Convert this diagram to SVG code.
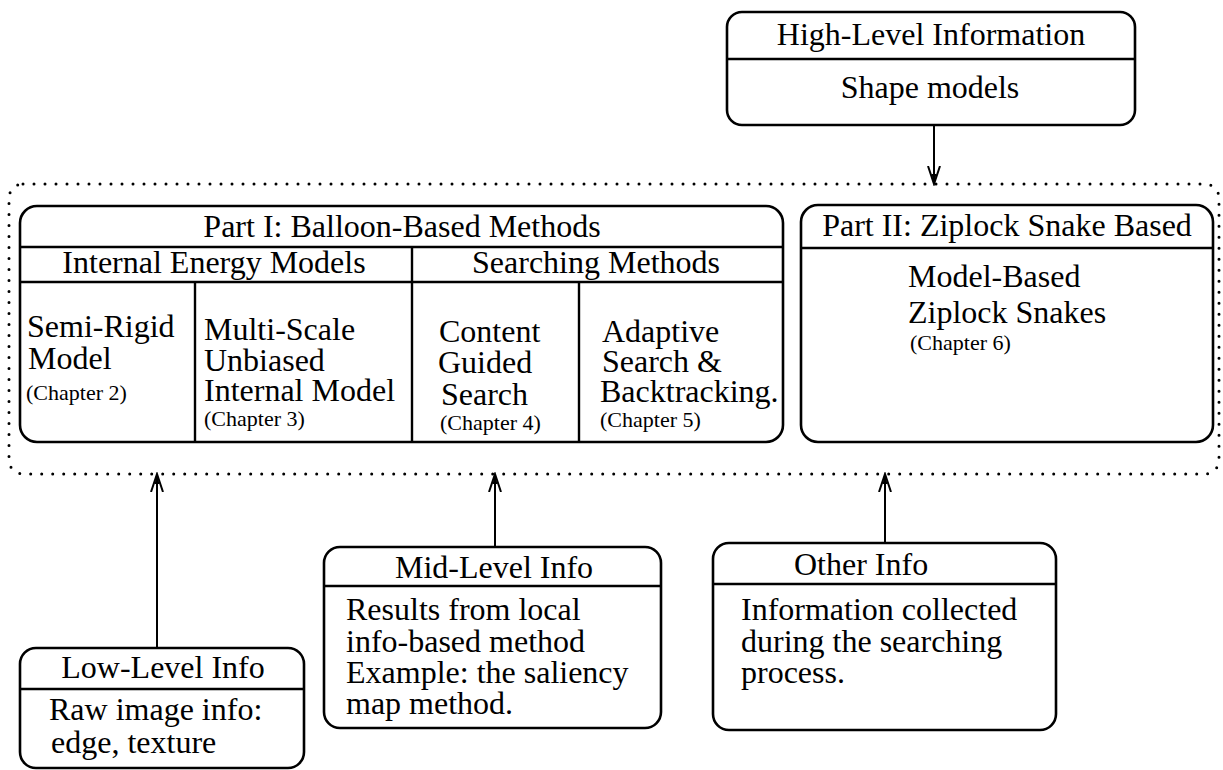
<svg xmlns="http://www.w3.org/2000/svg" width="1223" height="770" viewBox="0 0 1223 770">
<defs>
<style>
text{font-family:"Liberation Serif","Times New Roman",serif;fill:#000}
.t{font-size:32px}
.c{font-size:22px}
.m{text-anchor:middle}
.box{fill:#fff;stroke:#000;stroke-width:2.6}
.ln{stroke:#000;stroke-width:2.4;fill:none}
.ar{stroke:#000;stroke-width:2;fill:none;marker-end:url(#ah)}
.dot{fill:none;stroke:#000;stroke-width:3;stroke-dasharray:0 11;stroke-linecap:round}
</style>
<marker id="ah" markerWidth="20" markerHeight="14" refX="18" refY="6" orient="auto" markerUnits="userSpaceOnUse" viewBox="0 0 20 12">
<path d="M0,0 L18,6 L0,12" fill="none" stroke="#000" stroke-width="2"/>
<path d="M8,3.5 L18,6 L8,8.5 Z" fill="#000"/>
</marker>
</defs>
<rect width="1223" height="770" fill="#fff"/>

<g id="container">
<rect class="dot" x="9" y="184" width="1210" height="290" rx="14"/>
</g>

<g id="high-level">
<rect class="box" x="727" y="12" width="408" height="113" rx="15"/>
<line class="ln" x1="727" y1="59" x2="1135" y2="59"/>
<text class="t m" x="931" y="45">High-Level Information</text>
<text class="t m" x="930" y="98">Shape models</text>
</g>

<g id="part1">
<rect class="box" x="20" y="206" width="763" height="236" rx="17"/>
<line class="ln" x1="20" y1="247" x2="783" y2="247"/>
<line class="ln" x1="20" y1="282" x2="783" y2="282"/>
<line class="ln" x1="412" y1="247" x2="412" y2="442"/>
<line class="ln" x1="195" y1="282" x2="195" y2="442"/>
<line class="ln" x1="579" y1="282" x2="579" y2="442"/>
<text class="t m" x="402" y="237">Part I: Balloon-Based Methods</text>
<text class="t m" x="214" y="273">Internal Energy Models</text>
<text class="t m" x="596" y="273">Searching Methods</text>
<text class="t" x="27" y="337">Semi-Rigid</text>
<text class="t" x="28" y="369">Model</text>
<text class="c" x="26" y="400">(Chapter 2)</text>
<text class="t" x="204" y="340">Multi-Scale</text>
<text class="t" x="204" y="371">Unbiased</text>
<text class="t" x="204" y="401">Internal Model</text>
<text class="c" x="204" y="426">(Chapter 3)</text>
<text class="t" x="439" y="342">Content</text>
<text class="t" x="438" y="373">Guided</text>
<text class="t" x="441" y="405">Search</text>
<text class="c" x="440" y="430">(Chapter 4)</text>
<text class="t" x="602" y="342">Adaptive</text>
<text class="t" x="602" y="372">Search &amp;</text>
<text class="t" x="600" y="402">Backtracking.</text>
<text class="c" x="600" y="427">(Chapter 5)</text>
</g>

<g id="part2">
<rect class="box" x="801" y="205" width="412" height="237" rx="17"/>
<line class="ln" x1="801" y1="248" x2="1213" y2="248"/>
<text class="t m" x="1007" y="236">Part II: Ziplock Snake Based</text>
<text class="t" x="908" y="287">Model-Based</text>
<text class="t" x="908" y="323">Ziplock Snakes</text>
<text class="c" x="910" y="350">(Chapter 6)</text>
</g>

<g id="low-level">
<rect class="box" x="20" y="648" width="284" height="120" rx="16"/>
<line class="ln" x1="20" y1="689" x2="304" y2="689"/>
<text class="t m" x="163" y="678">Low-Level Info</text>
<text class="t" x="49" y="720">Raw image info:</text>
<text class="t" x="51" y="753">edge, texture</text>
</g>

<g id="mid-level">
<rect class="box" x="324" y="547" width="337" height="181" rx="16"/>
<line class="ln" x1="324" y1="586" x2="661" y2="586"/>
<text class="t m" x="494" y="578">Mid-Level Info</text>
<text class="t" x="346" y="620">Results from local</text>
<text class="t" x="346" y="652">info-based method</text>
<text class="t" x="346" y="683">Example: the saliency</text>
<text class="t" x="346" y="714">map method.</text>
</g>

<g id="other">
<rect class="box" x="713" y="543" width="343" height="187" rx="16"/>
<line class="ln" x1="713" y1="584" x2="1056" y2="584"/>
<text class="t" x="794" y="575">Other Info</text>
<text class="t" x="741" y="620">Information collected</text>
<text class="t" x="741" y="652">during the searching</text>
<text class="t" x="741" y="683">process.</text>
</g>

<g id="connectors">
<line class="ar" x1="934" y1="125" x2="934" y2="184"/>
<line class="ar" x1="157" y1="648" x2="157" y2="474"/>
<line class="ar" x1="495" y1="547" x2="495" y2="474"/>
<line class="ar" x1="885" y1="543" x2="885" y2="474"/>
</g>
</svg>
